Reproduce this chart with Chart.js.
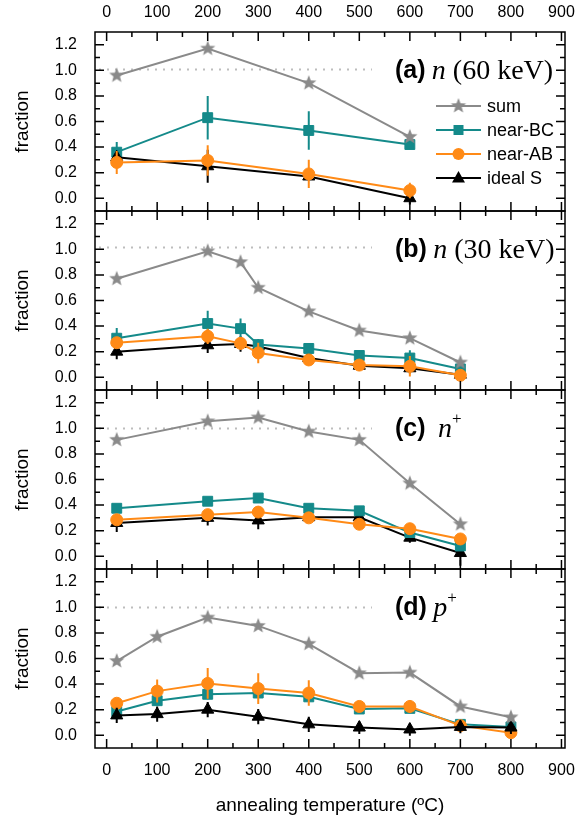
<!DOCTYPE html>
<html>
<head>
<meta charset="utf-8">
<script src="https://cdn.jsdelivr.net/npm/chart.js@4.4.1/dist/chart.umd.min.js"></script>
<style>
  html, body { margin: 0; padding: 0; background: #fff; }
  #figure { position: relative; width: 575px; height: 820px; overflow: hidden; }
  #figure canvas { position: absolute; left: 0; }
</style>
</head>
<body>
<div id="figure"></div>
<script>
// ---- axes ----
const xTicks = [0, 100, 200, 300, 400, 500, 600, 700, 800, 900];
const yTicks = [0.0, 0.2, 0.4, 0.6, 0.8, 1.0, 1.2];
const xRange = [-23, 907];
const yRange = [-0.1, 1.3];
const seriesNames = ["sum", "near-BC", "near-AB", "ideal S"];

// ---- (a) n (60 keV) ----
const tempA = [20, 200, 400, 600];
const sumA = [0.96, 1.17, 0.90, 0.48];
const bcA = [0.36, 0.63, 0.53, 0.42];
const bcErrA = [0.08, 0.17, 0.15, 0.03];
const abA = [0.28, 0.295, 0.19, 0.06];
const abErrA = [0.09, 0.12, 0.11, 0.06];
const sA = [0.32, 0.25, 0.17, 0.0];
const sErrA = [0.02, 0.13, 0.03, 0.05];

// ---- (b) n (30 keV) ----
const tempB = [20, 200, 265, 300, 400, 500, 600, 700];
const sumB = [0.77, 0.985, 0.90, 0.70, 0.515, 0.365, 0.305, 0.115];
const bcB = [0.305, 0.42, 0.38, 0.255, 0.225, 0.17, 0.15, 0.065];
const bcErrB = [0.08, 0.10, 0.08, 0.04, 0.03, 0.03, 0.06, 0.02];
const abB = [0.27, 0.32, 0.265, 0.19, 0.135, 0.095, 0.085, 0.015];
const abErrB = [0.03, 0.06, 0.05, 0.08, 0.03, 0.03, 0.08, 0.03];
const sB = [0.20, 0.25, 0.26, 0.24, 0.15, 0.09, 0.07, 0.02];
const sErrB = [0.06, 0.06, 0.06, 0.05, 0.04, 0.04, 0.04, 0.03];

// ---- (c) n+ ----
const tempC = [20, 200, 300, 400, 500, 600, 700];
const sumC = [0.91, 1.055, 1.085, 0.975, 0.91, 0.57, 0.25];
const bcC = [0.375, 0.43, 0.455, 0.375, 0.355, 0.185, 0.08];
const bcErrC = [0.02, 0.02, 0.02, 0.02, 0.02, 0.02, 0.02];
const abC = [0.285, 0.325, 0.345, 0.30, 0.25, 0.215, 0.135];
const abErrC = [0.03, 0.03, 0.04, 0.03, 0.04, 0.03, 0.03];
const sC = [0.26, 0.30, 0.28, 0.305, 0.305, 0.145, 0.025];
const sErrC = [0.07, 0.06, 0.07, 0.03, 0.03, 0.04, 0.10];

// ---- (d) p+ ----
const tempD = [20, 100, 200, 300, 400, 500, 600, 700, 800];
const sumD = [0.58, 0.77, 0.92, 0.855, 0.715, 0.485, 0.49, 0.225, 0.14];
const bcD = [0.185, 0.27, 0.32, 0.33, 0.30, 0.205, 0.21, 0.085, 0.065];
const bcErrD = [0.03, 0.03, 0.03, 0.03, 0.03, 0.03, 0.03, 0.02, 0.02];
const abD = [0.25, 0.345, 0.405, 0.365, 0.33, 0.225, 0.225, 0.075, 0.02];
const abErrD = [0.03, 0.09, 0.12, 0.12, 0.10, 0.03, 0.05, 0.02, 0.02];
const sD = [0.155, 0.165, 0.20, 0.145, 0.085, 0.06, 0.045, 0.065, 0.06];
const sErrD = [0.06, 0.06, 0.06, 0.06, 0.06, 0.05, 0.05, 0.05, 0.05];

// dotted "1.0" guide: level per panel and where it stops
const guideLevel = [1.01, 1.02, 1.0, 1.0];
const guideEnd = 525;

// ---- styles ----
const cSum = "#8a8a8a";
const cBC = "#148a8a";
const cAB = "#ff8a16";
const cS = "#000000";
const sans = "'Liberation Sans', Arial, sans-serif";
const serif = "'Liberation Serif', 'Times New Roman', serif";

function starImage(color, rOut, rIn) {
    const size = Math.ceil(rOut * 2) + 2;
    const c = document.createElement("canvas");
    c.width = c.height = size;
    const g = c.getContext("2d");
    g.fillStyle = color;
    g.beginPath();
    for (let k = 0; k < 10; k++) {
        const r = k % 2 ? rIn : rOut;
        const a = -Math.PI / 2 + k * Math.PI / 5;
        g.lineTo(size / 2 + r * Math.cos(a), size / 2 + r * Math.sin(a));
    }
    g.closePath();
    g.fill();
    return c;
}
const star = starImage(cSum, 8, 3.4);

const makeSet = (label, temps, vals, errs, color, style, radius, order) => ({
    label,
    data: temps.map((t, i) => ({ x: t, y: vals[i] })),
    errors: errs,
    borderColor: color,
    backgroundColor: color,
    borderWidth: 2,
    pointStyle: style,
    pointRadius: radius,
    pointBackgroundColor: color,
    pointBorderColor: color,
    pointBorderWidth: 1,
    tension: 0,
    fill: false,
    order
});

// ---- plugins ----
const errorBars = {
    id: "errorBars",
    beforeDatasetDraw(chart, args) {
        const ds = chart.data.datasets[args.index];
        if (!ds.errors) return;
        const { ctx, scales: { x, y } } = chart;
        ctx.save();
        ctx.strokeStyle = ds.borderColor;
        ctx.lineWidth = 2;
        ctx.beginPath();
        ds.data.forEach((p, i) => {
            const e = ds.errors[i];
            if (!e) return;
            const px = x.getPixelForValue(p.x);
            ctx.moveTo(px, y.getPixelForValue(p.y - e));
            ctx.lineTo(px, y.getPixelForValue(p.y + e));
        });
        ctx.stroke();
        ctx.restore();
    }
};

const guideLine = {
    id: "guideLine",
    beforeDatasetsDraw(chart, args, opts) {
        const { ctx, chartArea: a, scales: { x, y } } = chart;
        const py = Math.round(y.getPixelForValue(opts.level)) + 0.5;
        ctx.save();
        ctx.strokeStyle = "#bdbdbd";
        ctx.lineWidth = 2;
        ctx.setLineDash([2, 6]);
        ctx.beginPath();
        ctx.moveTo(a.left + 4, py);
        ctx.lineTo(x.getPixelForValue(guideEnd), py);
        ctx.stroke();
        ctx.restore();
    }
};

const frame = {
    id: "frame",
    afterDatasetsDraw(chart) {
        const { ctx, chartArea: a, scales: { x, y } } = chart;
        ctx.save();
        ctx.strokeStyle = "#000";
        ctx.lineWidth = 1.5;
        ctx.beginPath();
        const xs = [];
        xTicks.forEach((v, i) => {
            xs.push([v, 9]);
            if (i < xTicks.length - 1) xs.push([(v + xTicks[i + 1]) / 2, 5]);
        });
        xs.forEach(([v, len]) => {
            const px = x.getPixelForValue(v);
            ctx.moveTo(px, a.bottom); ctx.lineTo(px, a.bottom - len);
            ctx.moveTo(px, a.top); ctx.lineTo(px, a.top + len);
        });
        const ys = [];
        yTicks.forEach((v, i) => {
            ys.push([v, 9]);
            if (i < yTicks.length - 1) ys.push([(v + yTicks[i + 1]) / 2, 5]);
        });
        ys.forEach(([v, len]) => {
            const py = y.getPixelForValue(v);
            ctx.moveTo(a.left, py); ctx.lineTo(a.left + len, py);
            ctx.moveTo(a.right, py); ctx.lineTo(a.right - len, py);
        });
        ctx.stroke();
        ctx.strokeRect(a.left, a.top, a.right - a.left, a.bottom - a.top);
        ctx.restore();
    }
};

const panelLabel = {
    id: "panelLabel",
    afterDraw(chart, args, opts) {
        const { ctx, scales: { y } } = chart;
        let px = opts.left;
        const py = y.getPixelForValue(1.0) + 1;
        ctx.save();
        ctx.fillStyle = "#000";
        ctx.textBaseline = "middle";
        opts.parts.forEach(p => {
            ctx.font = p.font;
            ctx.fillText(p.text, px, py - (p.raise || 0));
            px += ctx.measureText(p.text).width;
        });
        ctx.restore();
    }
};

function drawMarker(ctx, kind, cx, cy, color) {
    ctx.fillStyle = color;
    if (kind === "star") {
        ctx.drawImage(star, cx - star.width / 2, cy - star.height / 2);
    } else if (kind === "rect") {
        ctx.fillRect(cx - 5, cy - 5, 10, 10);
    } else if (kind === "circle") {
        ctx.beginPath(); ctx.arc(cx, cy, 6, 0, Math.PI * 2); ctx.fill();
    } else {
        ctx.beginPath();
        ctx.moveTo(cx, cy - 7); ctx.lineTo(cx + 6.5, cy + 4.5); ctx.lineTo(cx - 6.5, cy + 4.5);
        ctx.closePath(); ctx.fill();
    }
}

const lineLegend = {
    id: "lineLegend",
    afterDraw(chart, args, opts) {
        if (!opts.show) return;
        const { ctx } = chart;
        const rows = [
            [seriesNames[0], cSum, "star"],
            [seriesNames[1], cBC, "rect"],
            [seriesNames[2], cAB, "circle"],
            [seriesNames[3], cS, "triangle"]
        ];
        ctx.save();
        ctx.font = "18px " + sans;
        ctx.textBaseline = "middle";
        rows.forEach(([name, color, kind], i) => {
            const cy = 106 + i * 24;
            ctx.strokeStyle = color;
            ctx.lineWidth = 2;
            ctx.beginPath(); ctx.moveTo(436, cy); ctx.lineTo(481, cy); ctx.stroke();
            drawMarker(ctx, kind, 458.5, cy, color);
            ctx.fillStyle = "#000";
            ctx.fillText(name, 487, cy + 1);
        });
        ctx.restore();
    }
};

// ---- panels ----
const fig = document.getElementById("figure");

function addCanvas(top, height) {
    const c = document.createElement("canvas");
    c.width = 575;
    c.height = height;
    c.style.top = top + "px";
    c.style.width = "575px";
    c.style.height = height + "px";
    fig.appendChild(c);
    return c;
}

const panels = [
    {
        top: 0, height: 213, pad: { top: 0, bottom: 2 }, xPos: "top", xShow: true, xHeight: 32, xTitle: false, xPad: 10,
        temps: tempA, sum: sumA, bc: bcA, bcErr: bcErrA, ab: abA, abErr: abErrA, s: sA, sErr: sErrA,
        order: { sum: 0, ab: 1, s: 2, bc: 3 }, guide: guideLevel[0], legend: true,
        label: [
            { text: "(a)", font: "bold 25px " + sans },
            { text: " ", font: "25px " + serif },
            { text: "n", font: "italic 28px " + serif },
            { text: " (60 keV)", font: "28px " + serif }
        ]
    },
    {
        top: 209, height: 183, pad: { top: 2, bottom: 2 }, xPos: "bottom", xShow: false,
        temps: tempB, sum: sumB, bc: bcB, bcErr: bcErrB, ab: abB, abErr: abErrB, s: sB, sErr: sErrB,
        order: { sum: 0, ab: 1, bc: 2, s: 3 }, guide: guideLevel[1], legend: false,
        label: [
            { text: "(b)", font: "bold 25px " + sans },
            { text: " ", font: "25px " + serif },
            { text: "n", font: "italic 28px " + serif },
            { text: " (30 keV)", font: "28px " + serif }
        ]
    },
    {
        top: 388, height: 183, pad: { top: 2, bottom: 2 }, xPos: "bottom", xShow: false,
        temps: tempC, sum: sumC, bc: bcC, bcErr: bcErrC, ab: abC, abErr: abErrC, s: sC, sErr: sErrC,
        order: { sum: 0, ab: 1, bc: 2, s: 3 }, guide: guideLevel[2], legend: false,
        label: [
            { text: "(c)", font: "bold 25px " + sans },
            { text: "  ", font: "25px " + serif },
            { text: "n", font: "italic 28px " + serif },
            { text: "+", font: "17px " + serif, raise: 10 }
        ]
    },
    {
        top: 567, height: 253, pad: { top: 2, bottom: 0 }, xPos: "bottom", xShow: true, xHeight: 72, xTitle: true, xPad: 13,
        temps: tempD, sum: sumD, bc: bcD, bcErr: bcErrD, ab: abD, abErr: abErrD, s: sD, sErr: sErrD,
        order: { sum: 0, s: 1, ab: 2, bc: 3 }, guide: guideLevel[3], legend: false,
        label: [
            { text: "(d)", font: "bold 25px " + sans },
            { text: " ", font: "25px " + serif },
            { text: "p", font: "italic 28px " + serif },
            { text: "+", font: "17px " + serif, raise: 10 }
        ]
    }
];

panels.forEach(p => {
    const canvas = addCanvas(p.top, p.height);
    new Chart(canvas, {
        type: "line",
        data: {
            datasets: [
                makeSet(seriesNames[0], p.temps, p.sum, null, cSum, star, 8, p.order.sum),
                makeSet(seriesNames[1], p.temps, p.bc, p.bcErr, cBC, "rect", 7, p.order.bc),
                makeSet(seriesNames[2], p.temps, p.ab, p.abErr, cAB, "circle", 6, p.order.ab),
                makeSet(seriesNames[3], p.temps, p.s, p.sErr, cS, "triangle", 7, p.order.s)
            ]
        },
        options: {
            responsive: false,
            animation: false,
            devicePixelRatio: 1,
            layout: { autoPadding: false, padding: { top: p.pad.top, bottom: p.pad.bottom, left: 0, right: 10 } },
            plugins: {
                legend: { display: false },
                tooltip: { enabled: false },
                guideLine: { level: p.guide },
                panelLabel: { parts: p.label, left: 395 },
                lineLegend: { show: p.legend }
            },
            scales: {
                x: {
                    type: "linear",
                    position: p.xPos,
                    display: p.xShow,
                    min: xRange[0],
                    max: xRange[1],
                    afterBuildTicks: s => { s.ticks = xTicks.map(v => ({ value: v })); },
                    afterFit: s => {
                        if (p.xHeight) s.height = p.xHeight;
                        s.paddingLeft = 0;
                        s.paddingRight = 0;
                    },
                    grid: { display: false, drawTicks: false },
                    border: { display: false },
                    ticks: {
                        autoSkip: false, maxRotation: 0, padding: p.xPad || 10, color: "#000",
                        font: { family: sans, size: 16 }
                    },
                    title: {
                        display: !!p.xTitle,
                        text: "annealing temperature (ºC)",
                        color: "#000",
                        font: { family: sans, size: 19 },
                        padding: { top: 0, bottom: 3 }
                    }
                },
                y: {
                    type: "linear",
                    min: yRange[0],
                    max: yRange[1],
                    afterBuildTicks: s => { s.ticks = yTicks.map(v => ({ value: v })); },
                    afterFit: s => {
                        s.width = 95;
                        s.paddingTop = 0;
                        s.paddingBottom = 0;
                    },
                    grid: { display: false, drawTicks: false },
                    border: { display: false },
                    ticks: {
                        padding: 18, color: "#000",
                        font: { family: sans, size: 16 },
                        callback: v => v.toFixed(1)
                    },
                    title: {
                        display: true,
                        text: "fraction",
                        color: "#000",
                        font: { family: sans, size: 19 },
                        padding: { top: 11, bottom: 0 }
                    }
                }
            }
        },
        plugins: [errorBars, guideLine, frame, panelLabel, lineLegend]
    });
});
</script>
</body>
</html>
